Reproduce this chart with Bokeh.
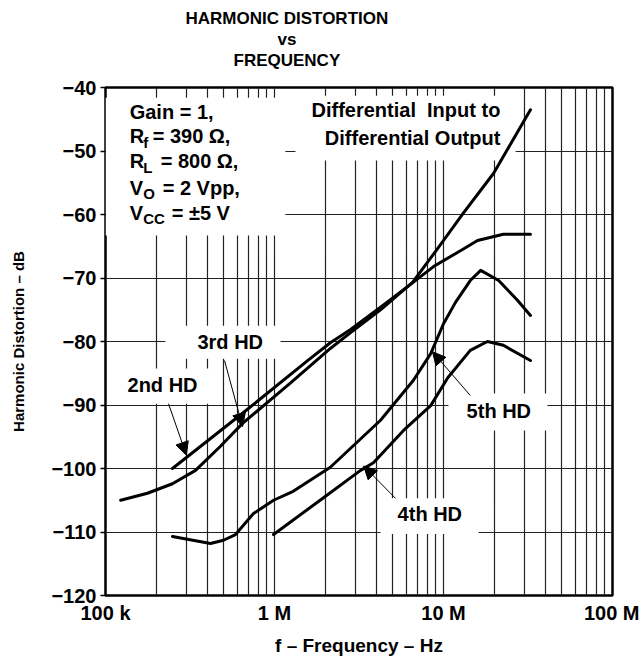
from bokeh.plotting import figure
from bokeh.models import Range1d, FixedTicker, Title, Label, BoxAnnotation, Arrow, NormalHead
from bokeh.embed import file_html
from bokeh.resources import INLINE

# ---------------- data ----------------
freq_2nd = [249e3, 647e3, 1.57e6, 2.14e6, 2.82e6, 4.24e6, 6.38e6, 8.73e6, 12.6e6, 15.9e6, 22.6e6, 32.7e6]
hd_2nd = [-100.0, -91.3, -83.0, -80.2, -78.1, -74.6, -71.0, -68.2, -65.7, -64.1, -63.1, -63.1]

freq_3rd = [123e3, 177e3, 249e3, 341e3, 479e3, 647e3, 1.245e6, 2.14e6, 2.82e6, 4.24e6,
            6.56e6, 8.98e6, 13.1e6, 19.8e6, 32.7e6]
hd_3rd = [-105.0, -103.9, -102.4, -100.3, -96.5, -92.9, -86.5, -81.1, -78.6, -75.0,
          -70.7, -65.8, -59.8, -53.5, -43.5]

freq_4th = [0.987e6, 1.95e6, 3.23e6, 3.85e6, 5.8e6, 8.4e6, 10.6e6, 14.4e6, 18.2e6, 22.6e6, 32.7e6]
hd_4th = [-110.4, -104.6, -100.3, -99.1, -94.0, -90.1, -85.7, -81.4, -80.0, -80.6, -83.0]

freq_5th = [249e3, 418e3, 499e3, 588e3, 751e3, 987e3, 1.29e6, 2.14e6, 4.24e6, 6.64e6,
            8.4e6, 10e6, 11.8e6, 14.4e6, 16.6e6, 21.2e6, 27.4e6, 32.7e6]
hd_5th = [-110.7, -111.8, -111.3, -110.4, -107.1, -105.0, -103.6, -99.8, -92.4, -86.1,
          -81.9, -77.2, -73.8, -70.4, -68.8, -70.4, -73.5, -75.9]

x_ticks = [1e5, 1e6, 1e7, 1e8]
x_tick_labels = ["100 k", "1 M", "10 M", "100 M"]
y_ticks = [-120, -110, -100, -90, -80, -70, -60, -50, -40]
y_tick_labels = ["\u2212120", "\u2212110", "\u2212100", "\u221290", "\u221280",
                 "\u221270", "\u221260", "\u221250", "\u221240"]
grid_mult = [1, 2, 3, 4, 5, 6, 7, 8, 9]
decades = [1e5, 1e6, 1e7]
title_lines = ["HARMONIC DISTORTION", "vs", "FREQUENCY"]

FONT = "Liberation Sans"
LSIZE = "20px"
SSIZE = "15px"

p = figure(width=639, height=660, x_axis_type="log",
           x_range=Range1d(1e5, 1e8), y_range=Range1d(-120, -40),
           output_backend="svg", toolbar_location=None, title=None,
           min_border_left=105, min_border_right=27, min_border_top=87, min_border_bottom=65)
p.background_fill_color = "white"
p.border_fill_color = "white"
p.outline_line_color = "black"
p.outline_line_width = 2.5

# titles, stacked outward from the frame (spacer first)
p.add_layout(Title(text=" ", text_font_size="14px", standoff=0), "above")
for txt, off in [(title_lines[2], 128), (title_lines[1], 172), (title_lines[0], 80)]:
    p.add_layout(Title(text=txt, align="left", offset=off, text_font=FONT, text_font_size="17px",
                       text_font_style="bold", text_color="black", standoff=0), "above")

# axes
p.xaxis.ticker = FixedTicker(ticks=x_ticks)
p.xaxis.major_label_overrides = dict(zip(x_ticks, x_tick_labels))
p.yaxis.ticker = FixedTicker(ticks=y_ticks)
p.yaxis.major_label_overrides = dict(zip(y_ticks, y_tick_labels))
for ax in (p.xaxis, p.yaxis):
    ax.axis_line_color = None
    ax.minor_tick_line_color = None
    ax.major_label_text_font = FONT
    ax.major_label_text_font_size = LSIZE
    ax.major_label_text_font_style = "bold"
    ax.major_label_text_color = "black"
    ax.axis_label_text_font = FONT
    ax.axis_label_text_font_style = "bold"
    ax.axis_label_text_color = "black"
p.xaxis.major_tick_line_color = None
p.xaxis.major_tick_out = 0
p.xaxis.major_tick_in = 0
p.xaxis.major_label_standoff = 6
p.xaxis.axis_label = "f \u2013 Frequency \u2013 Hz"
p.xaxis.axis_label_text_font_size = "19px"
p.xaxis.axis_label_standoff = 8
p.yaxis.major_tick_out = 5
p.yaxis.major_tick_in = 0
p.yaxis.major_tick_line_width = 1.5
p.yaxis.major_tick_line_color = "black"
p.yaxis.major_label_standoff = 4
p.yaxis.axis_label = "Harmonic Distortion \u2013 dB"
p.yaxis.axis_label_text_font_size = "15px"
p.yaxis.axis_label_standoff = 21

# grid
p.xgrid.ticker = FixedTicker(ticks=[d * m for d in decades for m in grid_mult])
p.ygrid.ticker = FixedTicker(ticks=y_ticks[1:-1])
for g in (p.xgrid, p.ygrid):
    g.grid_line_color = "#222222"
    g.grid_line_width = 1.2
    g.level = "image"

# white boxes behind the labels
boxes = [
    (1e5, 1.16e6, -41.6, -63.3),
    (1.33e6, 26.7e6, -41.3, -51.5),
    (226e3, 1.086e6, -77.5, -82.7),
    (115e3, 430e3, -84.25, -89.8),
    (10.7e6, 41.2e6, -88.2, -94.0),
    (4.24e6, 16.1e6, -104.7, -110.3),
]
for l, r, t, b in boxes:
    p.add_layout(BoxAnnotation(left=l, right=r, top=t, bottom=b, fill_color="white",
                               fill_alpha=1, line_color=None, level="underlay"))

# curves
for fx, hy in [(freq_2nd, hd_2nd), (freq_3rd, hd_3rd), (freq_4th, hd_4th), (freq_5th, hd_5th)]:
    p.line(fx, hy, line_width=3, color="black", line_cap="round", line_join="round")

# arrows
arrows = [
    (236e3, -89.8, 301e3, -97.9),
    (506e3, -83.0, 647e3, -93.4),
    (14.4e6, -88.5, 8.6e6, -81.6),
    (5.2e6, -104.7, 3.37e6, -99.6),
]
for xs, ys, xe, ye in arrows:
    p.add_layout(Arrow(end=NormalHead(size=13, fill_color="black", line_color="black", line_width=1),
                       x_start=xs, y_start=ys, x_end=xe, y_end=ye,
                       line_color="black", line_width=1))


def lab(x, y, text, size=LSIZE, align="left", xo=0):
    p.add_layout(Label(x=x, y=y, text=text, text_font=FONT, text_font_size=size,
                       text_font_style="bold", text_color="black", text_align=align,
                       text_baseline="middle", x_offset=xo))


# condition block
gx = 139e3
lab(gx, -43.8, "Gain = 1,")
lab(gx, -47.7, "R")
lab(gx, -48.65, "f", size=SSIZE, xo=13.5)
lab(gx, -47.7, "= 390 \u03a9,", xo=23)
lab(gx, -51.65, "R")
lab(gx, -52.6, "L", size=SSIZE, xo=13.5)
lab(gx, -51.65, "= 800 \u03a9,", xo=31)
lab(gx, -55.75, "V")
lab(gx, -56.7, "O", size=SSIZE, xo=13.5)
lab(gx, -55.75, "= 2 Vpp,", xo=33)
lab(gx, -59.7, "V")
lab(gx, -60.65, "CC", size=SSIZE, xo=13.5)
lab(gx, -59.7, "= \u00b15 V", xo=42)

lab(21.7e6, -43.6, "Differential\u00a0 Input to", align="right")
lab(21.7e6, -47.9, "Differential Output", align="right")

lab(135e3, -86.9, "2nd HD")
lab(350e3, -80.0, "3rd HD")
lab(13.7e6, -90.9, "5th HD")
lab(5.35e6, -107.1, "4th HD")

open("out.html", "w").write(file_html(p, INLINE))
